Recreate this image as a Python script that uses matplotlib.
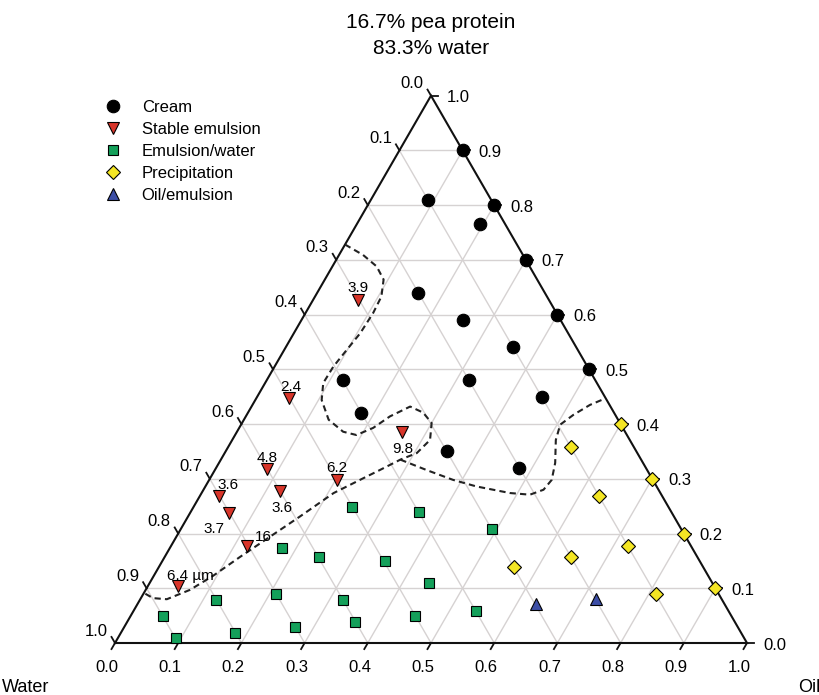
import numpy as np
import matplotlib
matplotlib.use("Agg")
import matplotlib.pyplot as plt

plt.rcParams['font.family'] = ['Liberation Sans', 'DejaVu Sans']

# ternary data as (oil, protein-solution) fractions, water = 1 - oil - protein
cream_oil = [0.10, 0.09, 0.20, 0.195, 0.30, 0.16, 0.255, 0.40, 0.36, 0.50, 0.12, 0.32, 0.45, 0.18, 0.35, 0.48]
cream_prot = [0.90, 0.81, 0.80, 0.765, 0.70, 0.64, 0.59, 0.60, 0.54, 0.50, 0.48, 0.48, 0.45, 0.42, 0.35, 0.32]

stable_oil = [0.072, 0.052, 0.261, 0.081, 0.202, 0.031, 0.122, 0.061, 0.121, 0.047]
stable_prot = [0.626, 0.447, 0.386, 0.318, 0.298, 0.268, 0.278, 0.238, 0.177, 0.104]
stable_size = ['3.9', '2.4', '9.8', '4.8', '6.2', '3.6', '3.6', '3.7', '16', '6.4 µm']

emwat_oil = [0.251, 0.362, 0.492, 0.177, 0.243, 0.352, 0.442, 0.121, 0.210, 0.322,
             0.450, 0.542, 0.051, 0.092, 0.181, 0.271, 0.361]
emwat_prot = [0.248, 0.239, 0.208, 0.174, 0.158, 0.149, 0.109, 0.079, 0.089, 0.079,
              0.050, 0.059, 0.050, 0.009, 0.019, 0.029, 0.039]

precip_oil = [0.60, 0.542, 0.70, 0.632, 0.80, 0.722, 0.642, 0.562, 0.90, 0.811]
precip_prot = [0.40, 0.358, 0.30, 0.268, 0.20, 0.178, 0.158, 0.138, 0.10, 0.089]

oilem_oil = [0.630, 0.721]
oilem_prot = [0.071, 0.080]

# phase boundaries (dashed)
bndA_oil = [0.0, 0.038, 0.070, 0.093, 0.105, 0.107, 0.105, 0.099, 0.093, 0.092, 0.105, 0.134,
            0.168, 0.192, 0.212, 0.228, 0.251, 0.277, 0.300, 0.313, 0.304, 0.284, 0.261, 0.246,
            0.209, 0.177, 0.148, 0.119, 0.094, 0.070, 0.042, 0.019, 0.003]
bndA_prot = [0.728, 0.709, 0.688, 0.664, 0.633, 0.603, 0.566, 0.536, 0.505, 0.475, 0.444, 0.408,
             0.386, 0.380, 0.393, 0.414, 0.432, 0.421, 0.402, 0.371, 0.347, 0.335, 0.316, 0.304,
             0.274, 0.231, 0.194, 0.157, 0.123, 0.097, 0.080, 0.082, 0.090]
bndB_oil = [0.284, 0.335, 0.386, 0.429, 0.488, 0.521, 0.538, 0.542, 0.532, 0.512, 0.505, 0.517, 0.534, 0.548]
bndB_prot = [0.335, 0.316, 0.298, 0.286, 0.274, 0.271, 0.280, 0.298, 0.329, 0.371, 0.399, 0.417, 0.435, 0.444]

ticks = [round(0.1 * i, 1) for i in range(11)]
H = np.sqrt(3) / 2


def tern(oil, prot):
    oil = np.asarray(oil, float)
    prot = np.asarray(prot, float)
    return oil + prot / 2, prot * H


fig = plt.figure(figsize=(8.19, 6.95), dpi=100)
ax = fig.add_axes([0, 0, 1, 1])
ax.set_xlim(-115 / 632, 704 / 632)
ax.set_ylim(-52 / 632, 643 / 632)
ax.axis('off')

px = 1 / 632.0  # one pixel in data units
gcol = '#d6d2d2'
# grid
for v in ticks[1:-1]:
    # constant protein (horizontal)
    x, y = tern([0, 1 - v], [v, v])
    ax.plot(x, y, color=gcol, lw=1.0, zorder=1)
    # constant oil
    x, y = tern([v, v], [0, 1 - v])
    ax.plot(x, y, color=gcol, lw=1.0, zorder=1)
    # constant water
    x, y = tern([1 - v, 0], [0, 1 - v])
    ax.plot(x, y, color=gcol, lw=1.0, zorder=1)

# triangle
x, y = tern([0, 1, 0, 0], [0, 0, 1, 0])
ax.plot(x, y, color='#111111', lw=1.5, zorder=2, solid_joinstyle='miter')

tl = 7 * px
for v in ticks:
    # bottom: oil
    bx, by = tern(v, 0)
    ax.plot([bx, bx - tl * 0.5], [by, by - tl * H], color='#111111', lw=1.3)
    ax.text(bx - 8 * px, by - 25 * px, f'{v:.1f}', ha='center', va='center', fontsize=12)
    # right: protein
    rx, ry = tern(1 - v, v)
    ax.plot([rx, rx + tl], [ry, ry], color='#111111', lw=1.3)
    ax.text(rx + 16 * px, ry - 2 * px, f'{v:.1f}', ha='left', va='center', fontsize=12)
    # left: water
    lx, ly = tern(0, 1 - v)
    ax.plot([lx, lx - tl * 0.5], [ly, ly + tl * H], color='#111111', lw=1.3)
    ax.text(lx - 19 * px, ly + 12 * px, f'{v:.1f}', ha='center', va='center', fontsize=12)

# boundaries
for bo, bp in [(bndA_oil, bndA_prot), (bndB_oil, bndB_prot)]:
    x, y = tern(bo, bp)
    ax.plot(x, y, color='#222222', lw=1.5, ls=(0, (3, 2)), zorder=3)

mk = dict(ls='none', mec='black', mew=0.8, zorder=5)
x, y = tern(cream_oil, cream_prot)
ax.plot(x, y, marker='o', ms=9, mfc='black', label='Cream', **mk)
x, y = tern(stable_oil, stable_prot)
ax.plot(x, y, marker='v', ms=8.5, mfc='#d8352a', label='Stable emulsion', **mk)
sx, sy = x, y
x, y = tern(emwat_oil, emwat_prot)
ax.plot(x, y, marker='s', ms=7.5, mfc='#14a05a', label='Emulsion/water', **mk)
x, y = tern(precip_oil, precip_prot)
ax.plot(x, y, marker='D', ms=7, mfc='#f4e624', label='Precipitation', **mk)
x, y = tern(oilem_oil, oilem_prot)
ax.plot(x, y, marker='^', ms=8.5, mfc='#3c4ea6', label='Oil/emulsion', **mk)

offs = [(0, 12), (2, 11), (1, -17), (1, 11), (0, 12), (9, 11), (2, -17), (-15, -16), (16, 9), (13, 10)]
for xi, yi, lab, (dx, dy) in zip(sx, sy, stable_size, offs):
    ax.annotate(lab, (xi, yi), xytext=(dx, dy), textcoords='offset pixels',
                ha='center', va='center', fontsize=11, zorder=6)

ax.legend(loc='upper left', bbox_to_anchor=(105 / 819, 1 - 100 / 695), frameon=False,
          fontsize=12, handlelength=1.0, handletextpad=1.2, labelspacing=0.42,
          borderaxespad=0, borderpad=0)

ax.text(0.5, (643 - 23) / 632, '16.7% pea protein', ha='center', va='center', fontsize=15)
ax.text(0.5, (643 - 48) / 632, '83.3% water', ha='center', va='center', fontsize=15)
ax.text(-113 / 632, -44 / 632, 'Water', ha='left', va='center', fontsize=13)
ax.text(683 / 632, -45 / 632, 'Oil', ha='left', va='center', fontsize=13)

fig.savefig('out.png', dpi=100)
